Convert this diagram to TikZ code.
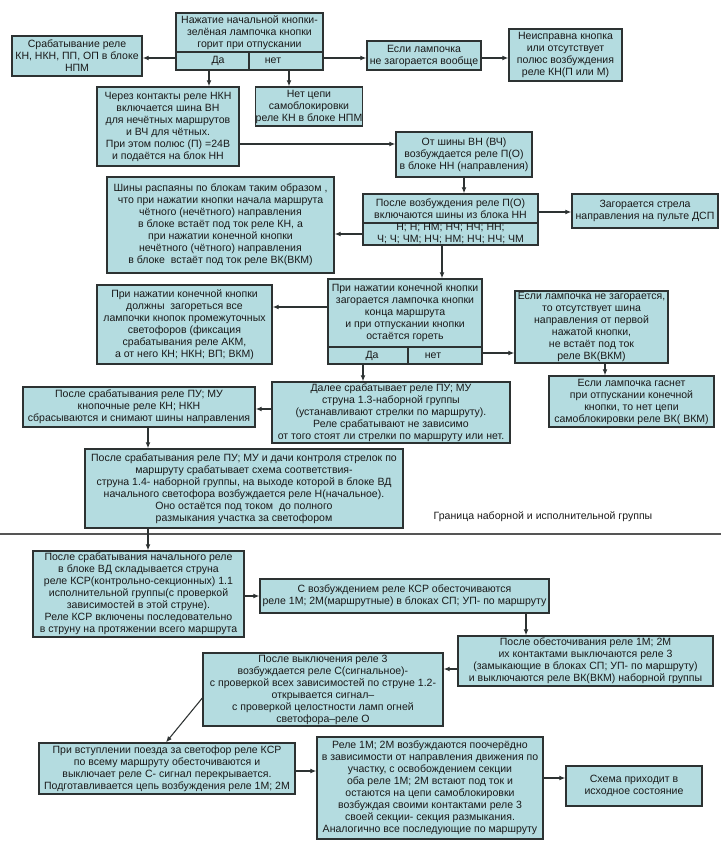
\documentclass[tikz,border=0pt]{standalone}
\usepackage{fontspec}
\setmainfont{Liberation Sans}
\usetikzlibrary{arrows.meta}
\definecolor{boxfill}{RGB}{180,220,224}
\definecolor{boxline}{RGB}{45,50,50}
\definecolor{txt}{RGB}{25,25,25}
\tikzset{
  box/.style={draw=boxline, fill=boxfill, line width=1pt, inner sep=0pt, align=center, text=txt,
    font=\fontsize{7.9pt}{9pt}\selectfont},
  lbl/.style={inner sep=0pt, align=center, text=txt, font=\fontsize{7.9pt}{9pt}\selectfont},
  divline/.style={draw=boxline, line width=1pt},
  arr/.style={draw=boxline, line width=0.8pt, -{Latex[length=4.5pt,width=3.6pt]}},
}
\newcommand\bx[6]{\node[box, minimum width={(#4-#2)*0.75pt}, minimum height={(#5-#3)*0.75pt}] (#1) at ({(#2+#4)/2},{(#3+#5)/2}) {#6};}
\begin{document}
\begin{tikzpicture}[x=0.75pt,y=-0.75pt]
\fill[white] (0,0) rectangle (721,848);
\useasboundingbox (0,0) rectangle (721,848);

% ---- top decision box
\bx{top}{176}{13}{323}{70}{}
\draw[divline] (top.west |- 0,52) -- (top.east |- 0,52);
\draw[divline] (249,52) -- (249,70);
\node[lbl] (topT) at (249.5,33) {Нажатие начальной кнопки-\\зелёная лампочка кнопки\\горит при отпускании};
\node[lbl] (topDa) at (218,61) {Да};
\node[lbl] (topNet) at (273,61) {нет};

\bx{srab}{12}{36}{142}{76}{Срабатывание реле\\КН, НКН, ПП, ОП в блоке\\НПМ}
\bx{cherez}{97}{87}{239}{166}{Через контакты реле НКН\\включается шина ВН\\для нечётных маршрутов\\и ВЧ для чётных.\\При этом полюс (П) =24В\\и подаётся на блок НН}
\bx{netcepi}{261}{87}{357}{126}{Нет цепи\\самоблокировки\\реле КН в блоке НПМ}
\bx{esli1}{367}{41}{481}{70}{Если лампочка\\не загорается вообще}
\bx{neispr}{509}{29}{622}{81}{Неисправна кнопка\\или отсутствует\\полюс возбуждения\\реле КН(П или М)}
\bx{otshiny}{396}{132}{532}{177}{От шины ВН (ВЧ)\\возбуждается реле П(О)\\в блоке НН (направления)}
\bx{shiny}{107}{177}{334}{273}{Шины распаяны по блокам таким образом ,\\что при нажатии кнопки начала маршрута\\чётного (нечётного) направления\\в блоке встаёт под ток реле КН, а\\при нажатии конечной кнопки\\нечётного (чётного) направления\\в блоке \ встаёт под ток реле ВК(ВКМ)}

% ---- split box after excitation
\bx{posle}{363}{194}{538}{245}{}
\draw[divline] (posle.west |- 0,223) -- (posle.east |- 0,223);
\node[lbl] (posleT) at (450.5,208.5) {После возбуждения реле П(О)\\включаются шины из блока НН};
\node[lbl] (posleB) at (450.5,234) {Н; Н; НМ; НЧ; НЧ; НН;\\Ч; Ч; ЧМ; НЧ; НМ; НЧ; НЧ; ЧМ};

\bx{zagor}{572}{194}{718}{228}{Загорается стрела\\направления на пульте ДСП}

% ---- split box end button
\bx{prinazh}{328}{279}{482}{364}{}
\draw[divline] (prinazh.west |- 0,347) -- (prinazh.east |- 0,347);
\draw[divline] (408,347) -- (408,364);
\node[lbl] (prinazhT) at (405,313) {При нажатии конечной кнопки\\загорается лампочка кнопки\\конца маршрута\\и при отпускании кнопки\\остаётся гореть};
\node[lbl] (prinazhDa) at (372,356) {Да};
\node[lbl] (prinazhNet) at (433,356) {нет};

\bx{dolzhny}{97}{285}{272}{364}{При нажатии конечной кнопки\\должны \ загореться все\\лампочки кнопок промежуточных\\светофоров (фиксация\\срабатывания реле АКМ,\\а от него КН; НКН; ВП; ВКМ)}
\bx{eslinezag}{515}{291}{668}{363}{Если лампочка не загорается,\\то отсутствует шина\\направления от первой\\нажатой кнопки,\\не встаёт под ток\\реле ВК(ВКМ)}
\bx{dalee}{272}{382}{510}{443}{Далее срабатывает реле ПУ; МУ\\струна 1.3-наборной группы\\(устанавливают стрелки по маршруту).\\Реле срабатывают не зависимо\\от того стоят ли стрелки по маршруту или нет.}
\bx{gasnet}{549}{376}{714}{427}{Если лампочка гаснет\\при отпускании конечной\\кнопки, то нет цепи\\самоблокировки реле ВК( ВКМ)}
\bx{knopoch}{23}{387}{255}{427}{После срабатывания реле ПУ; МУ\\кнопочные реле КН; НКН\\сбрасываются и снимают шины направления}
\bx{dachi}{85}{449}{403}{528}{После срабатывания реле ПУ; МУ и дачи контроля стрелок по\\маршруту срабатывает схема соответствия-\\струна 1.4- наборной группы, на выходе которой в блоке ВД\\начального светофора возбуждается реле Н(начальное).\\Оно остаётся под током \ до полного\\размыкания участка за светофором}

% ---- boundary
\coordinate (bl) at (0,534);
\coordinate (br) at (721,534);
\draw[line width=1.3pt, draw={rgb,255:red,85;green,85;blue,85}] (bl) -- (br);
\node[lbl] (granica) at (543,517) {Граница наборной и исполнительной группы};

\bx{nachrele}{33}{551}{244}{637}{После срабатывания начального реле\\в блоке ВД складывается струна\\реле КСР(контрольно-секционных) 1.1\\исполнительной группы(с проверкой\\зависимостей в этой струне).\\Реле КСР включены последовательно\\в струну на протяжении всего маршрута}
\bx{svozb}{260}{579}{549}{613}{С возбуждением реле КСР обесточиваются\\реле 1М; 2М(маршрутные) в блоках СП; УП- по маршруту}
\bx{obestoch}{458}{636}{713}{686}{После обесточивания реле 1М; 2М\\их контактами выключаются реле 3\\(замыкающие в блоках СП; УП- по маршруту)\\и выключаются реле ВК(ВКМ) наборной группы}
\bx{vykl3}{203}{653}{443}{726}{После выключения реле 3\\возбуждается реле С(сигнальное)-\\с проверкой всех зависимостей по струне 1.2-\\открывается сигнал–\\с проверкой целостности ламп огней\\светофора–реле О}
\bx{vstupl}{39}{743}{295}{794}{При вступлении поезда за светофор реле КСР\\по всему маршруту обесточиваются и\\выключает реле С- сигнал перекрывается.\\Подготавливается цепь возбуждения реле 1М; 2М}
\bx{rele1m}{317}{737}{543}{839}{Реле 1М; 2М возбуждаются поочерёдно\\в зависимости от направления движения по\\участку, с освобождением секции\\оба реле 1М; 2М встают под ток и\\остаются на цепи самоблокировки\\возбуждая своими контактами реле 3\\своей секции- секция размыкания.\\Аналогично все последующие по маршруту}
\bx{sxema}{566}{766}{702}{806}{Схема приходит в\\исходное состояние}

% ---- connectors
\draw[arr] (top.west |- 0,58) -- (srab.east |- 0,58);
\draw[arr] (top.east |- 0,58) -- (esli1.west |- 0,58);
\draw[arr] (esli1.east |- 0,58) -- (neispr.west |- 0,58);
\draw[arr] (top.south -| 209,0) -- (cherez.north -| 209,0);
\draw[arr] (top.south -| 289,0) -- (netcepi.north -| 289,0);
\draw[arr] (cherez.east |- 0,144) -- (otshiny.west |- 0,144);
\draw[arr] (otshiny.south -| 464,0) -- (posle.north -| 464,0);
\draw[arr] (posle.east |- 0,212) -- (zagor.west |- 0,212);
\draw[arr] (posle.west |- 0,234) -- (shiny.east |- 0,234);
\draw[arr] (posle.south -| 442,0) -- (prinazh.north -| 442,0);
\draw[arr] (prinazh.west |- 0,307) -- (dolzhny.east |- 0,307);
\draw[arr] (prinazh.east |- 0,353) -- (eslinezag.west |- 0,353);
\draw[arr] (prinazh.south -| 363,0) -- (dalee.north -| 363,0);
\draw[arr] (eslinezag.south -| 605,0) -- (gasnet.north -| 605,0);
\draw[arr] (dalee.west |- 0,409) -- (knopoch.east |- 0,409);
\draw[arr] (knopoch.south -| 148,0) -- (dachi.north -| 148,0);
\draw[arr] (dachi.south -| 148,0) -- (nachrele.north -| 148,0);
\draw[arr] (nachrele.east |- 0,596) -- (svozb.west |- 0,596);
\draw[arr] (svozb.south -| 526,0) -- (obestoch.north -| 526,0);
\draw[arr] (obestoch.west |- 0,669) -- (vykl3.east |- 0,669);
\draw[arr] (vykl3.west |- 0,698) -- (vstupl.north -| 166,0);
\draw[arr] (vstupl.east |- 0,771) -- (rele1m.west |- 0,771);
\draw[arr] (rele1m.east |- 0,778) -- (sxema.west |- 0,778);
\end{tikzpicture}
\end{document}
